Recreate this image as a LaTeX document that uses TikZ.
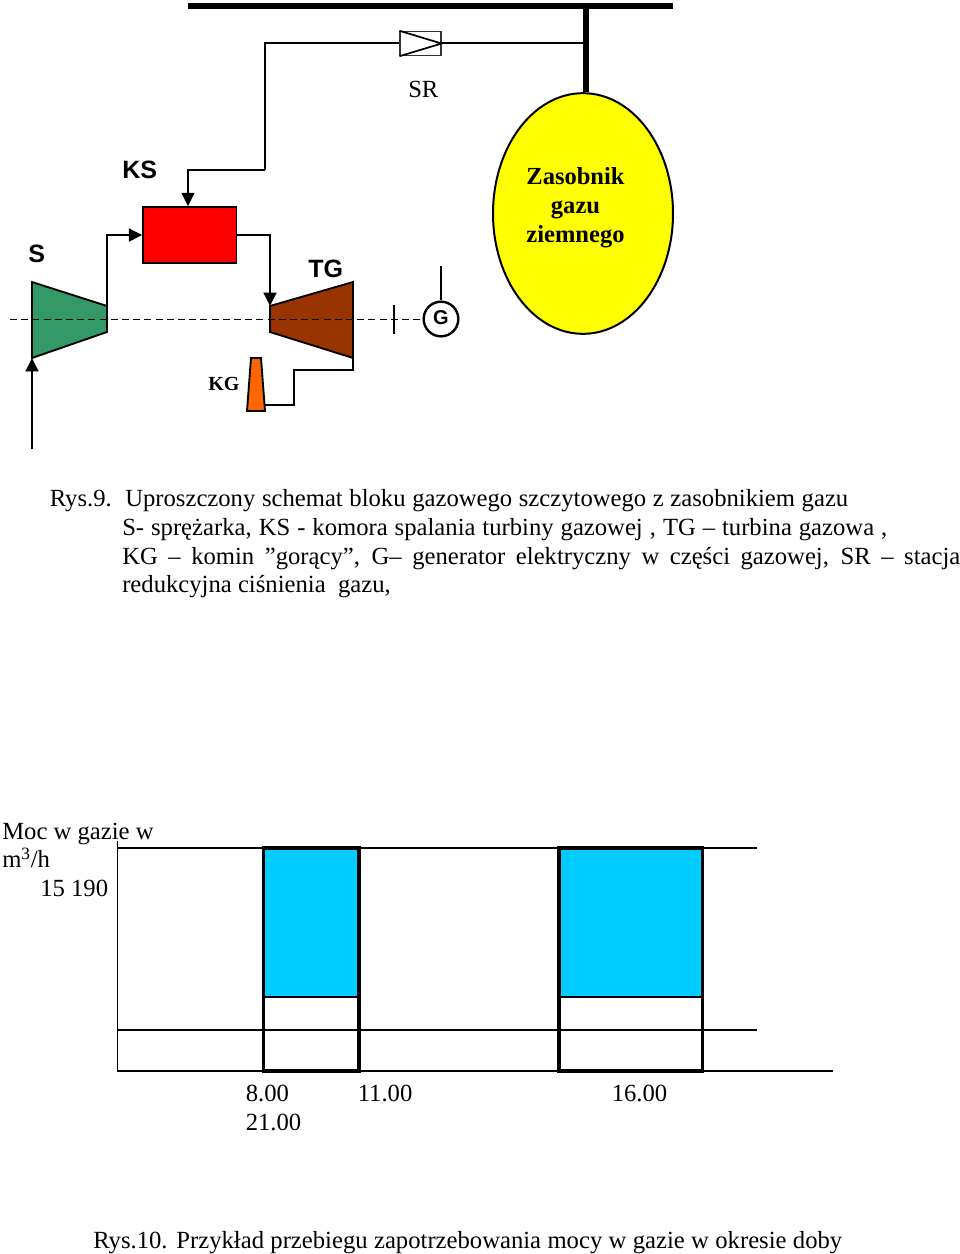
\documentclass[tikz,border=0pt]{standalone}
\usepackage{fontspec}
\setmainfont{Liberation Serif}
\newfontfamily\labelfont{Liberation Sans}
\usetikzlibrary{arrows.meta,shapes.geometric}

\definecolor{storeyellow}{RGB}{255,255,0}
\definecolor{chamberred}{RGB}{255,0,0}
\definecolor{compgreen}{RGB}{51,153,102}
\definecolor{turbbrown}{RGB}{153,51,0}
\definecolor{kgorange}{RGB}{255,102,0}
\definecolor{peakblue}{RGB}{0,204,255}

\newcommand{\fitline}[2]{\makebox[\dimexpr #1pt*3/4\relax][s]{#2}}

\tikzset{
    pipe/.style={draw=black,line width=1.8pt},
    flow/.style={pipe,-{Triangle[width=9.5pt,length=10pt]}},
    bar/.style={draw=black,line width=4.5pt},
    machine/.style={draw=black,line width=1.4pt},
    sanslabel/.style={inner sep=0pt,font=\labelfont\bfseries\fontsize{18.8}{18.8}\selectfont},
    txt/.style={anchor=base west,inner sep=0pt,font=\fontsize{18.5}{18.5}\selectfont},
    chartline/.style={draw=black,line width=1.4pt},
    peak/.style={draw=black,line width=2.3pt}
}

\begin{document}
\begin{tikzpicture}[x=0.75pt,y=-0.75pt]
\useasboundingbox (0,0) rectangle (960,1254);

% gas line and storage
\coordinate (busL) at (188,5.5);
\coordinate (busR) at (673,5.5);
\coordinate (busT) at (586,5.5);
\coordinate (teeS) at (586,43);
\coordinate (bendA) at (265,43);
\coordinate (bendB) at (265,170);
\coordinate (srL) at (400,43);
\coordinate (srR) at (441,43);
\node[draw=black,line width=1.5pt,fill=storeyellow,ellipse,inner sep=0pt,minimum width=135pt,minimum height=180.5pt] (store) at (583,213.5) {};
\node[align=center,inner sep=0pt,font=\bfseries\fontsize{18.4}{21.7}\selectfont] (storetxt) at (575.5,208) {Zasobnik\\gazu\\ziemnego};
\draw[bar] (busL)--(busR);
\draw[bar] (busT)--(store.north -| busT);
\draw[pipe] (teeS)--(srR);
\draw[pipe] (srL)--(bendA)--(bendB);

% reduction station
\node[draw=black!80,line width=1.1pt,fill=white,minimum width=30.5pt,minimum height=18pt,inner sep=0pt] (sr) at (420.5,43.5) {};
\draw[line width=1.3pt] (sr.north west)--(sr.east)--(sr.south west);
\node[txt] (srtxt) at (408,97.5) {SR};

% chamber, compressor, turbine
\node[draw=black,line width=1.3pt,fill=chamberred,minimum width=70pt,minimum height=42pt,inner sep=0pt] (ks) at (189.8,235) {};
\coordinate (sA) at (32,282);
\coordinate (sB) at (107,306);
\coordinate (sC) at (107,332);
\coordinate (sD) at (32,358);
\coordinate (tA) at (270,306);
\coordinate (tB) at (353,282);
\coordinate (tC) at (353,358);
\coordinate (tD) at (270,332);
\draw[machine,fill=compgreen] (sA)--(sB)--(sC)--(sD)--cycle;
\draw[machine,fill=turbbrown] (tA)--(tB)--(tC)--(tD)--cycle;
\coordinate (inlet) at (32,449);
\draw[flow] (inlet)--(sD);
\draw[flow] (bendB)-|(ks.north -| 188,0);
\draw[flow] (sB)|-(ks.west);
\draw[flow] (ks.east)-|(tA);

% chimney
\coordinate (kgA) at (251,358);
\coordinate (kgB) at (261,358);
\coordinate (kgC) at (265,411);
\coordinate (kgD) at (247,411);
\coordinate (kgE) at (265,405);
\draw[machine,fill=kgorange] (kgA)--(kgB)--(kgC)--(kgD)--cycle;
\draw[pipe] (tC)--(353,370)--(294,370)--(294,405)--(kgE);
\node[anchor=base west,inner sep=0pt,font=\bfseries\fontsize{15}{15}\selectfont] (kgtxt) at (208,390.5) {KG};

% shaft and generator
\node[draw=black,line width=1.8pt,fill=white,circle,minimum size=26pt,inner sep=0pt,font=\labelfont\bfseries\fontsize{15}{15}\selectfont] (gen) at (441,319) {\raisebox{1.5pt}{G}};
\coordinate (shaft) at (10,319.5);
\coordinate (genUp) at (441,266);
\coordinate (tickA) at (394,305);
\coordinate (tickB) at (394,334);
\draw[line width=1.25pt,dash pattern=on 5.2pt off 3.2pt] (shaft)--(gen.west |- shaft);
\draw[pipe] (genUp)--(gen.north);
\draw[line width=0.9pt] (tickA)--(tickB);

\node[sanslabel,anchor=base west] (kstxt) at (122,178) {KS};
\node[sanslabel,anchor=base west] (stxt) at (28,262) {S};
\node[sanslabel,anchor=base west] (tgtxt) at (308,277) {TG};

% first caption
\node[txt] (capA) at (49.5,506) {Rys.9.};
\node[txt] (capB) at (125,506) {\fitline{723}{Uproszczony schemat bloku gazowego szczytowego z zasobnikiem gazu}};
\node[txt] (capC) at (122,535) {\fitline{765}{S- sprężarka, KS - komora spalania turbiny gazowej , TG – turbina gazowa ,}};
\node[txt] (capD) at (122,564) {\fitline{838}{KG – komin ”gorący”, G– generator elektryczny w części gazowej, SR – stacja}};
\node[txt] (capE) at (122,592) {redukcyjna ciśnienia\ \ gazu,};

% chart
\coordinate (axT) at (117.5,841);
\coordinate (axB) at (117.5,1071);
\coordinate (axR) at (833,1071);
\coordinate (topL) at (117.5,848);
\coordinate (topR) at (757,848);
\coordinate (midL) at (117.5,1030);
\coordinate (midR) at (757,1030);
\draw[chartline] (axT)--(axB)--(axR);
\draw[chartline] (topL)--(topR);
\draw[chartline] (midL)--(midR);
\coordinate (aTL) at (263.5,848);
\coordinate (aMR) at (359,997);
\coordinate (aML) at (263.5,997);
\coordinate (aBR) at (359,1071);
\coordinate (bTL) at (559,848);
\coordinate (bMR) at (702.5,997);
\coordinate (bML) at (559,997);
\coordinate (bBR) at (702.5,1071);
\fill[fill=peakblue] (aTL) rectangle (aMR);
\fill[fill=peakblue] (bTL) rectangle (bMR);
\draw[peak] (aTL) rectangle (aBR);
\draw[peak] (bTL) rectangle (bBR);
\draw[chartline] (aML)--(aMR);
\draw[chartline] (bML)--(bMR);

\node[txt] (ylabA) at (2,839.5) {Moc w gazie w};
\node[txt] (ylabB) at (2,867.5) {m\textsuperscript{3}/h};
\node[txt] (ylabC) at (40,896) {15 190};
\node[txt] (tickH) at (245.5,1101.5) {8.00};
\node[txt] (tickI) at (357.5,1101.5) {11.00};
\node[txt] (tickJ) at (611.5,1101.5) {16.00};
\node[txt] (tickK) at (245.5,1130) {21.00};

% second caption
\node[txt] (capF) at (93,1248) {\fitline{749}{Rys.10. Przykład przebiegu zapotrzebowania mocy w gazie w okresie doby}};
\end{tikzpicture}
\end{document}
